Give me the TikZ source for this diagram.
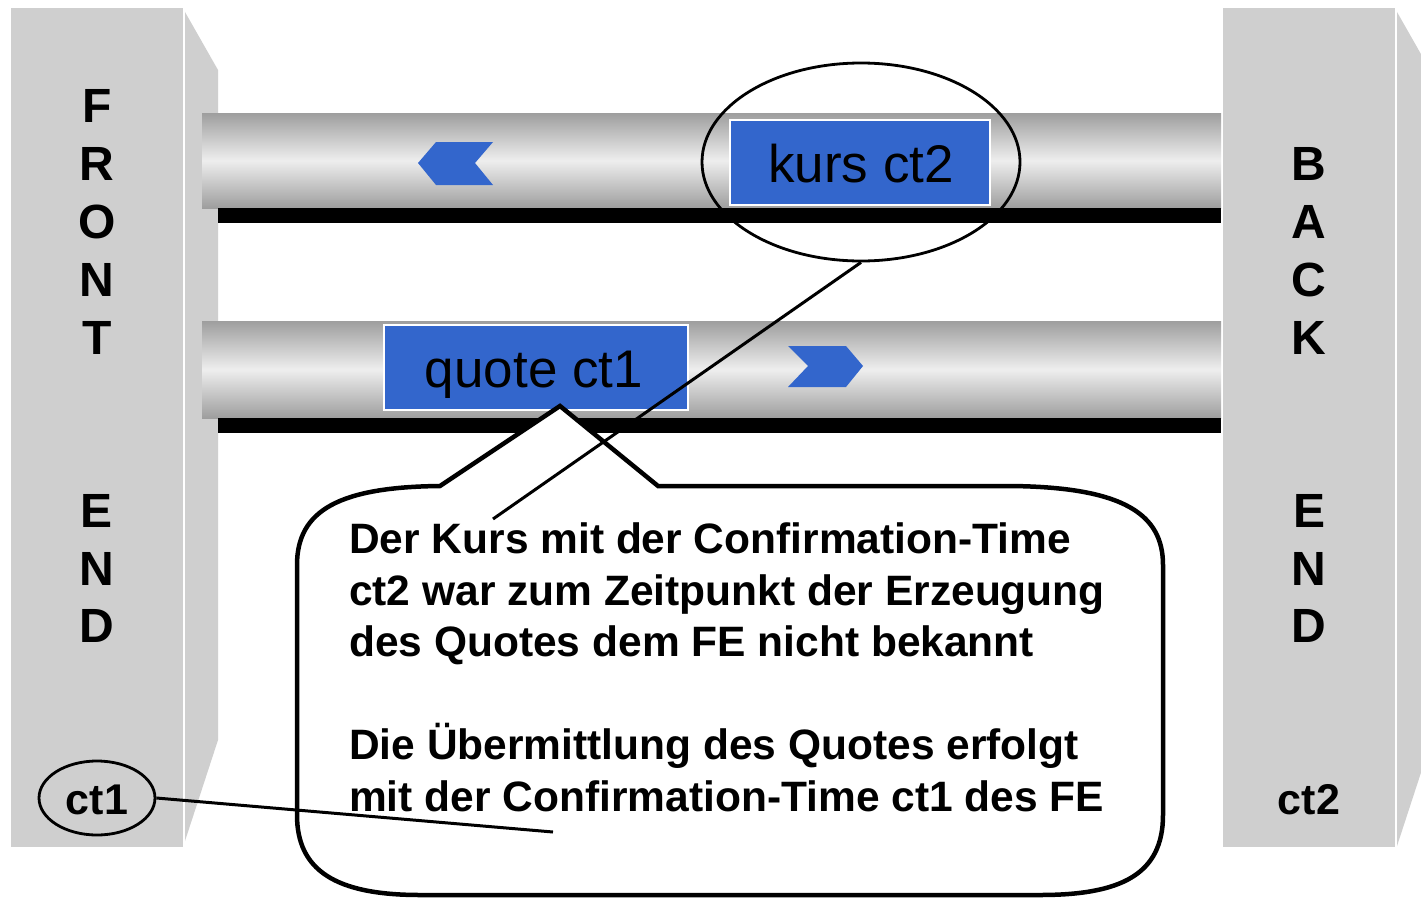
\documentclass[tikz,border=0pt]{standalone}
\usepackage{fontspec}
\setmainfont{Liberation Sans}
\usetikzlibrary{shapes.geometric}
\definecolor{panelgray}{HTML}{CFCFCF}
\definecolor{pipedark}{HTML}{9E9E9E}
\definecolor{pipelight}{HTML}{EEEEEE}
\definecolor{msgblue}{HTML}{3366CC}
\tikzset{
  panelface/.style={fill=panelgray, draw=none},
  pipebody/.style={top color=pipedark, bottom color=pipedark, middle color=pipelight, draw=none},
  pipebar/.style={fill=black, draw=none},
  chevron/.style={fill=msgblue, draw=none},
  msgbox/.style={rectangle, fill=msgblue, draw=white, line width=1.5pt, inner sep=0pt},
  msgtext/.style={anchor=base, inner sep=0pt, font=\fontsize{53}{53}\selectfont},
  lett/.style={anchor=base, inner sep=0pt, font=\fontsize{48}{48}\selectfont\bfseries},
  ctlabel/.style={font=\fontsize{43}{43}\selectfont\bfseries, inner sep=0pt, anchor=base},
  ring/.style={ellipse, draw=black, line width=2.8pt, inner sep=0pt},
  callout/.style={draw=black, line width=4.5pt, fill=white, line join=miter},
  connector/.style={draw=black, line width=3pt}
}
\begin{document}
\begin{tikzpicture}[x=1pt,y=-1pt]
\useasboundingbox (0,0) rectangle (1421,899);
\fill[white] (0,0) rectangle (1421,899);

% left panel
\path[panelface] (11,8) rectangle (183,847);
\path[panelface] (185,12) -- (218,70) -- (218,740) -- (185,841) -- cycle;
% right panel
\path[panelface] (1223,8) rectangle (1395,847);
\path[panelface] (1397,12) -- (1430,70) -- (1430,745) -- (1397,846) -- cycle;

% pipes
\path[pipebody] (202,113) rectangle (1221,208);
\path[pipebar] (218,208) rectangle (1221,223);
\path[pipebody] (202,321) rectangle (1221,418);
\path[pipebar] (218,418) rectangle (1221,433);

% chevrons
\path[chevron] (418,163) -- (436,142) -- (493,142) -- (475,163) -- (493,185) -- (436,185) -- cycle;
\path[chevron] (788,346) -- (846,346) -- (863,366) -- (846,387) -- (788,387) -- (808,366) -- cycle;

% messages
\node[msgbox, minimum width=260pt, minimum height=85pt] (kursbox) at (860,162.5) {};
\node[msgtext] (kurstext) at (861,182) {kurs ct2};
\node[msgbox, minimum width=304pt, minimum height=85pt] (quotebox) at (536,367.5) {};
\node[msgtext] (quotetext) at (534,387) {quote ct1};

% ring around kurs
\node[ring, minimum width=318pt, minimum height=198pt] (kursring) at (861,162) {};

% FRONT END letters
\node[lett] (f1) at (97,122) {F};
\node[lett] (f2) at (97,180) {R};
\node[lett] (f3) at (97,238) {O};
\node[lett] (f4) at (97,296) {N};
\node[lett] (f5) at (97,354) {T};
\node[lett] (f6) at (97,527) {E};
\node[lett] (f7) at (97,585) {N};
\node[lett] (f8) at (97,642) {D};
% BACK END letters
\node[lett] (b1) at (1309,180) {B};
\node[lett] (b2) at (1309,238) {A};
\node[lett] (b3) at (1309,296) {C};
\node[lett] (b4) at (1309,354) {K};
\node[lett] (b5) at (1309,527) {E};
\node[lett] (b6) at (1309,585) {N};
\node[lett] (b7) at (1309,642) {D};

% callout
\path[callout] (440,486) -- (560,406) -- (658,486) -- (1010,486)
  .. controls (1125,487) and (1163,515) .. (1163,565)
  -- (1163,815)
  .. controls (1163,875) and (1120,895) .. (1040,895)
  -- (420,895)
  .. controls (335,895) and (297,870) .. (297,815)
  -- (297,565)
  .. controls (297,510) and (340,487) .. cycle;

\node[anchor=base west, align=left, inner sep=0pt,
      font=\fontsize{42.5}{51.5}\selectfont\bfseries] (note) at (349,811)
  {Der Kurs mit der Confirmation-Time\\
   ct2 war zum Zeitpunkt der Erzeugung\\
   des Quotes dem FE nicht bekannt\\[51.5pt]
   Die Übermittlung des Quotes erfolgt\\
   mit der Confirmation-Time ct1 des FE};

% ct labels
\node[ring, minimum width=116pt, minimum height=74pt] (ct1ring) at (97,798) {};
\node[ctlabel] (ct1) at (97,814) {ct1};
\node[ctlabel] (ct2) at (1309,814) {ct2};

% connectors
\coordinate (kursend) at (493,519);
\coordinate (ct1end) at (553,832);
\draw[connector] (kursring.south) -- (kursend);
\draw[connector] (ct1ring.east) -- (ct1end);
\end{tikzpicture}
\end{document}
